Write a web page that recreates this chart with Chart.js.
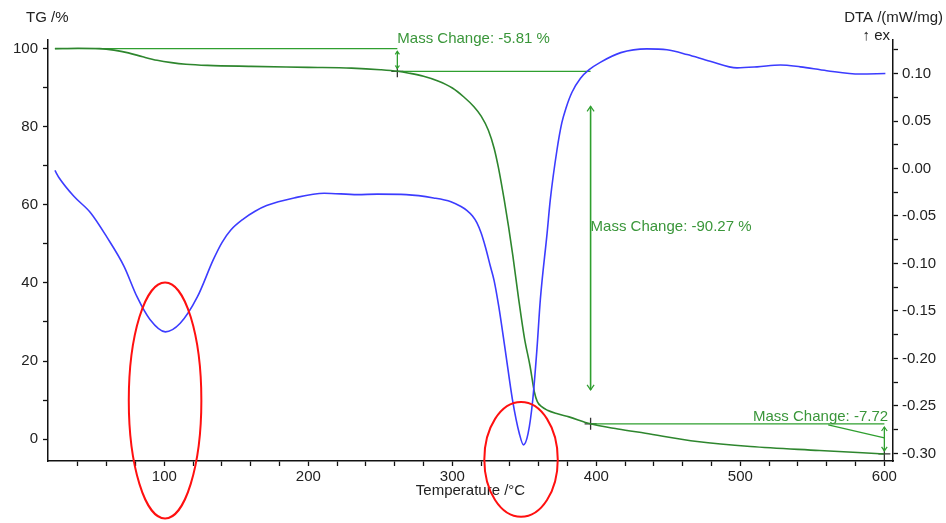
<!DOCTYPE html>
<html>
<head>
<meta charset="utf-8">
<script src="https://cdn.jsdelivr.net/npm/chart.js@4.4.1/dist/chart.umd.min.js"></script>
<style>
  html, body { margin: 0; padding: 0; background: #fff; }
  #wrap { width: 946px; height: 523px; }
</style>
</head>
<body>
<div id="wrap"><canvas id="tg-dta" width="946" height="523"></canvas></div>
<script>
// TG — масса образца, %
const tgTemp = [24, 40, 55, 65, 75, 85, 95, 105, 115, 130, 160, 200, 230, 250, 262, 270, 280, 290, 300, 308,
  315, 320, 325, 329, 332, 336, 339, 342, 346, 350, 354, 357, 359, 362, 366, 373, 381, 396, 415, 434, 470, 507, 555, 600];
const tgMass = [100.0, 100.1, 100.0, 99.6, 98.9, 97.9, 97.0, 96.4, 96.0, 95.7, 95.45, 95.2, 95.0, 94.6, 94.2, 93.7,
  92.9, 91.7, 89.9, 87.6, 85.1, 82.7, 79.1, 74.5, 69.5, 61.3, 54.5, 47.0, 36.0, 26.0, 18.6, 12.0, 9.6, 8.3, 7.4,
  6.5, 5.7, 3.92, 2.6, 1.5, -0.6, -1.9, -2.9, -3.8];

// DTA — mW/mg
const dtaTemp = [24, 27, 37, 49, 60, 72, 81, 90, 100.7, 111, 123, 134, 140, 146, 155, 163, 171, 190, 211, 234, 248,
  268, 287, 299, 306, 310, 314, 317, 320, 323, 326.4, 329, 332.2, 336.8, 341.7, 346.5, 349.4, 352.6, 355.8, 358.7,
  361.1, 365.8, 368, 372.7, 376, 379, 383, 389, 395, 403, 417, 435, 449, 463, 479, 497.7, 511.6, 527.8, 541.7, 560,
  583, 600.7];
const dtaSignal = [-0.002, -0.010, -0.029, -0.047, -0.072, -0.103, -0.135, -0.159, -0.172, -0.163, -0.135, -0.096,
  -0.078, -0.065, -0.053, -0.045, -0.039, -0.031, -0.026, -0.0275, -0.027, -0.0275, -0.031, -0.035, -0.040, -0.044,
  -0.050, -0.057, -0.068, -0.083, -0.103, -0.118, -0.145, -0.192, -0.243, -0.279, -0.291, -0.279, -0.244, -0.191,
  -0.138, -0.068, -0.033, 0.020, 0.048, 0.064, 0.080, 0.095, 0.104, 0.112, 0.122, 0.126, 0.125, 0.120, 0.113, 0.106,
  0.107, 0.109, 0.107, 0.103, 0.0995, 0.100];

// ступени потери массы
const stepTemp = [261.8, 396, 600];
const stepMass = [94.19, 3.92, -3.80];
const stepLabels = ['Mass Change: -5.81 %', 'Mass Change: -90.27 %', 'Mass Change: -7.72'];

// тики
const xTickValues = [40, 60, 80, 100, 120, 140, 160, 180, 200, 220, 240, 260, 280, 300, 320, 340, 360, 380, 400,
  420, 440, 460, 480, 500, 520, 540, 560, 580, 600];
const xTickLabels = [100, 200, 300, 400, 500, 600];
const tgTickValues = [0, 10, 20, 30, 40, 50, 60, 70, 80, 90, 100];
const tgTickLabels = [0, 20, 40, 60, 80, 100];
const dtaTickValues = [-0.3, -0.275, -0.25, -0.225, -0.2, -0.175, -0.15, -0.125, -0.1, -0.075, -0.05, -0.025, 0,
  0.025, 0.05, 0.075, 0.1, 0.125];

const FONT = "'Liberation Sans', Arial, sans-serif";
const TXT = '#222';
const AXIS = '#111';
const CURVE_GREEN = '#2e862e';
const ANNO_GREEN = '#2f9f2f';
const LABEL_GREEN = '#3a963a';

const pts = (xs, ys) => xs.map((x, i) => ({ x, y: ys[i] }));
const seg = (x1, y1, x2, y2) => [{ x: x1, y: y1 }, { x: x2, y: y2 }];

function annoLine(data, extra) {
  return Object.assign({
    data, yAxisID: 'yTG', borderColor: ANNO_GREEN, borderWidth: 1.3,
    pointRadius: 0, tension: 0, fill: false,
  }, extra || {});
}

// стрелки, подписи, оси и выделения
const decorPlugin = {
  id: 'decor',
  afterDatasetsDraw(chart) {
    const { ctx } = chart;
    const x = chart.scales.x, y = chart.scales.yTG;

    // наконечники стрелок с обеих сторон
    chart.data.datasets.forEach((ds, i) => {
      if (!ds.arrow) return;
      const el = chart.getDatasetMeta(i).data;
      const a = el[0], b = el[el.length - 1];
      const s = ds.arrow;
      ctx.save();
      ctx.strokeStyle = ANNO_GREEN;
      ctx.lineWidth = 1.2;
      [[a, -1], [b, 1]].forEach(([p, dir]) => {
        ctx.beginPath();
        ctx.moveTo(p.x - s * 0.7, p.y - dir * s);
        ctx.lineTo(p.x, p.y);
        ctx.lineTo(p.x + s * 0.7, p.y - dir * s);
        ctx.stroke();
      });
      ctx.restore();
    });

    // подписи ступеней
    const anchors = [
      { x: stepTemp[0], y: 102.6, align: 'left' },
      { x: stepTemp[1], y: 54.4, align: 'left' },
      { x: 602.6, y: 5.8, align: 'right' },
    ];
    ctx.save();
    ctx.font = '15px ' + FONT;
    ctx.fillStyle = LABEL_GREEN;
    ctx.textBaseline = 'middle';
    anchors.forEach((a, i) => {
      ctx.textAlign = a.align;
      ctx.fillText(stepLabels[i], x.getPixelForValue(a.x), y.getPixelForValue(a.y));
    });
    ctx.restore();

    // заголовки осей Y
    ctx.save();
    ctx.font = '15px ' + FONT;
    ctx.fillStyle = TXT;
    ctx.textBaseline = 'middle';
    ctx.textAlign = 'left';
    ctx.fillText('TG /%', 26, 18);
    ctx.textAlign = 'right';
    ctx.fillText('DTA /(mW/mg)', 943, 18);
    ctx.fillText('\u2191 ex', 890, 36);
    ctx.restore();

    // красные эллипсы
    const highlights = [
      { x: 100.5, y: 9.9, rx: 25.2, ry: 30.2 },
      { x: 347.7, y: -5.2, rx: 25.5, ry: 14.7 },
    ];
    ctx.save();
    ctx.strokeStyle = '#ff1010';
    ctx.lineWidth = 2;
    highlights.forEach(h => {
      const cx = x.getPixelForValue(h.x), cy = y.getPixelForValue(h.y);
      const rx = Math.abs(x.getPixelForValue(h.x + h.rx) - cx);
      const ry = Math.abs(y.getPixelForValue(h.y + h.ry) - cy);
      ctx.beginPath();
      ctx.ellipse(cx, cy, rx, ry, 0, 0, Math.PI * 2);
      ctx.stroke();
    });
    ctx.restore();
  },
};

const tickFont = { family: FONT, size: 15 };
const gridOpts = { drawOnChartArea: false, drawTicks: true, tickLength: 5, tickColor: AXIS, tickWidth: 1.3 };

new Chart(document.getElementById('tg-dta'), {
  type: 'line',
  data: {
    datasets: [
      {
        label: 'DTA', data: pts(dtaTemp, dtaSignal), yAxisID: 'yDTA',
        borderColor: '#3c3cff', borderWidth: 1.6, pointRadius: 0, cubicInterpolationMode: 'monotone', fill: false,
      },
      {
        label: 'TG', data: pts(tgTemp, tgMass), yAxisID: 'yTG',
        borderColor: CURVE_GREEN, borderWidth: 1.6, pointRadius: 0, cubicInterpolationMode: 'monotone', fill: false,
      },
      annoLine(seg(tgTemp[0], tgMass[0], stepTemp[0], tgMass[0])),
      annoLine(seg(stepTemp[0], stepMass[0], stepTemp[1], stepMass[0])),
      annoLine(seg(stepTemp[1], stepMass[1], stepTemp[2], stepMass[1])),
      annoLine(seg(561, 3.66, stepTemp[2], 0.3)),
      annoLine(seg(stepTemp[0], 99.3, stepTemp[0], 94.9), { arrow: 3 }),
      annoLine(seg(stepTemp[1], 85.2, stepTemp[1], 12.6), { arrow: 5, borderWidth: 1.6 }),
      annoLine(seg(stepTemp[2], 3.1, stepTemp[2], -3.0), { arrow: 4 }),
      {
        label: 'steps', type: 'scatter', data: pts(stepTemp, stepMass), yAxisID: 'yTG',
        pointStyle: 'cross', pointRadius: 6, borderColor: '#333', borderWidth: 1.3, clip: false,
      },
    ],
  },
  options: {
    responsive: false,
    animation: false,
    layout: { padding: { top: 40, left: 0, right: 0, bottom: 0 } },
    plugins: { legend: { display: false }, tooltip: { enabled: false } },
    scales: {
      x: {
        type: 'linear', position: 'bottom', min: 19.2, max: 606,
        afterBuildTicks: s => { s.ticks = xTickValues.map(v => ({ value: v })); },
        afterFit: s => { s.height = 62; },
        ticks: {
          font: tickFont, color: TXT, padding: 2, maxRotation: 0, autoSkip: false,
          callback: v => (xTickLabels.includes(v) ? String(v) : ''),
        },
        grid: gridOpts,
        border: { color: AXIS, width: 1.5 },
        title: {
          display: true, text: 'Temperature /°C', color: TXT,
          font: { family: FONT, size: 15 }, padding: { top: 0, bottom: 23 },
        },
      },
      yTG: {
        type: 'linear', position: 'left', min: -5.6, max: 102.2,
        afterBuildTicks: s => { s.ticks = tgTickValues.map(v => ({ value: v })); },
        afterFit: s => { s.width = 48; },
        ticks: {
          font: tickFont, color: TXT, padding: 5, autoSkip: false,
          callback: v => (tgTickLabels.includes(v) ? String(v) : ''),
        },
        grid: gridOpts,
        border: { color: AXIS, width: 1.5 },
      },
      yDTA: {
        type: 'linear', position: 'right', min: -0.308, max: 0.1353,
        afterBuildTicks: s => { s.ticks = dtaTickValues.map(v => ({ value: v })); },
        afterFit: s => { s.width = 53; },
        ticks: {
          font: tickFont, color: TXT, padding: 4, autoSkip: false,
          callback: v => (Math.round(v * 1000) % 50 === 0 ? v.toFixed(2) : ''),
        },
        grid: gridOpts,
        border: { color: AXIS, width: 1.5 },
      },
    },
  },
  plugins: [decorPlugin],
});
</script>
</body>
</html>
